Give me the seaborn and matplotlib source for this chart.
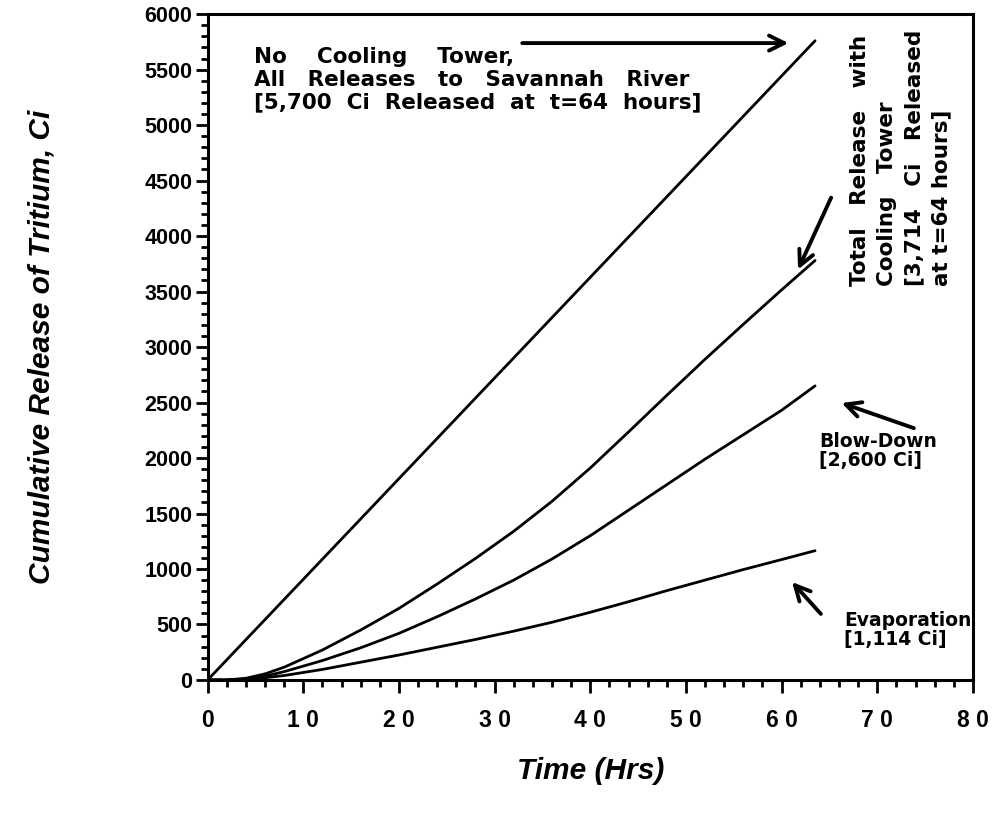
import numpy as np
import pandas as pd
import matplotlib
matplotlib.use("Agg")
import matplotlib.pyplot as plt
from matplotlib.ticker import MultipleLocator
import seaborn as sns

sns.set_theme(style="ticks")
plt.rcParams['font.family'] = ['Liberation Sans', 'DejaVu Sans']
plt.rcParams['font.weight'] = 'bold'
plt.rcParams['text.color'] = 'black'
plt.rcParams['axes.labelcolor'] = 'black'
plt.rcParams['xtick.color'] = 'black'
plt.rcParams['ytick.color'] = 'black'

# values (hours, Ci)
hours = [0, 2, 4, 6, 8, 12, 16, 20, 24, 28, 32, 36, 40, 44, 48, 52, 56, 60, 63.5]
total_tower = [0, 0, 15, 55, 115, 270, 450, 645, 865, 1095, 1340, 1610, 1910,
               2235, 2565, 2890, 3205, 3515, 3780]
blow_down = [0, 0, 10, 35, 75, 175, 290, 420, 570, 730, 900, 1090, 1300,
             1530, 1760, 1990, 2210, 2430, 2650]
evaporation = [0, 0, 5, 20, 40, 95, 160, 225, 295, 365, 440, 520, 610,
               705, 805, 900, 995, 1085, 1165]
no_tower_hours = [0, 63.5]
no_tower = [0, 5760]

x_ticks = [0, 10, 20, 30, 40, 50, 60, 70, 80]
x_tick_labels = ["0", "1 0", "2 0", "3 0", "4 0", "5 0", "6 0", "7 0", "8 0"]
y_ticks = list(range(0, 6001, 500))

df = pd.DataFrame({'hours': hours, 'total': total_tower,
                   'blow': blow_down, 'evap': evaporation})
df_nt = pd.DataFrame({'hours': no_tower_hours, 'release': no_tower})

fig = plt.figure(figsize=(10.03, 8.16), dpi=100)
ax = fig.add_axes([0.207, 0.1667, 0.763, 0.816])

lw = 2.0
sns.lineplot(data=df_nt, x='hours', y='release', color='black', lw=lw, ax=ax)
sns.lineplot(data=df, x='hours', y='total', color='black', lw=lw, ax=ax)
sns.lineplot(data=df, x='hours', y='blow', color='black', lw=lw, ax=ax)
sns.lineplot(data=df, x='hours', y='evap', color='black', lw=lw, ax=ax)

ax.set_xlim(0, 80)
ax.set_ylim(0, 6000)
ax.set_xticks(x_ticks)
ax.set_xticklabels(x_tick_labels)
ax.set_yticks(y_ticks)
ax.xaxis.set_minor_locator(MultipleLocator(2))
ax.yaxis.set_minor_locator(MultipleLocator(100))
ax.tick_params(which='major', direction='out', length=9, width=2,
               labelsize=15.5, colors='black', pad=2)
ax.tick_params(axis='x', which='major', pad=12, labelsize=16.5)
ax.tick_params(which='minor', direction='out', length=5, width=2)
for lab in ax.get_xticklabels() + ax.get_yticklabels():
    lab.set_fontweight('bold')
for sp in ax.spines.values():
    sp.set_linewidth(2.2)
    sp.set_color('black')

ax.set_xlabel('Time (Hrs)', fontsize=21.5, fontweight='bold', style='italic', labelpad=18)
ax.set_ylabel('Cumulative Release of Tritium, Ci', fontsize=21.5, fontweight='bold',
              style='italic', labelpad=64)

arrow = dict(arrowstyle='->, head_length=0.9, head_width=0.45', lw=2.8, color='black')
big = dict(fontsize=15.5, fontweight='bold', color='black', family='DejaVu Sans')
small = dict(fontsize=13.5, fontweight='bold', color='black', family='DejaVu Sans')

ax.text(4.9, 5700, 'No    Cooling    Tower,\nAll   Releases   to   Savannah   River\n[5,700  Ci  Released  at  t=64  hours]',
        va='top', ha='left', linespacing=1.15, **big)
ax.annotate('', xy=(61.0, 5739), xytext=(32.6, 5739), arrowprops=arrow)

ax.text(67.1, 3550, 'Total   Release   with\nCooling   Tower\n[3,714   Ci   Released\nat t=64 hours]',
        rotation=90, ha='left', va='bottom', multialignment='left', linespacing=1.45, **big)
ax.annotate('', xy=(61.6, 3676), xytext=(65.3, 4369), arrowprops=arrow)

ax.text(63.9, 2230, 'Blow-Down\n[2,600 Ci]', ha='left', va='top', linespacing=1.0, **small)
ax.annotate('', xy=(66.0, 2504), xytext=(74.1, 2261), arrowprops=arrow)

ax.text(66.5, 620, 'Evaporation\n[1,114 Ci]', ha='left', va='top', linespacing=1.0, **small)
ax.annotate('', xy=(60.9, 901), xytext=(64.3, 577), arrowprops=arrow)

fig.savefig('out.png', dpi=100, facecolor='white')
